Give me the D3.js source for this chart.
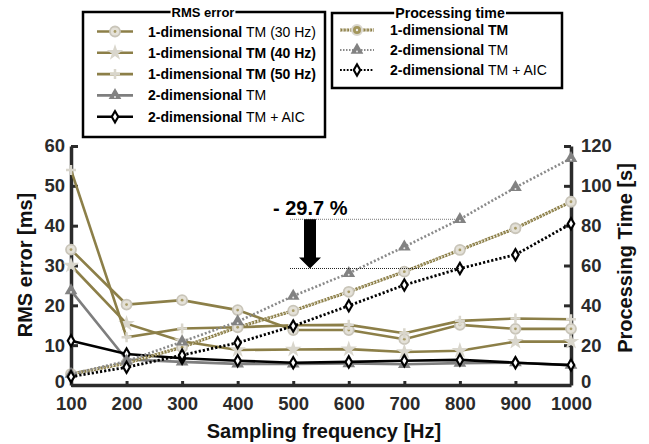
<!DOCTYPE html>
<html>
<head>
<meta charset="utf-8">
<script src="https://cdn.jsdelivr.net/npm/d3@7"></script>
<style>
  html, body { margin: 0; padding: 0; background: #fff; }
  svg { display: block; font-family: "Liberation Sans", Arial, Helvetica, sans-serif; }
</style>
</head>
<body>
<div id="chart"></div>
<script>
// Sampling frequencies [Hz]
const freqs = [100, 200, 300, 400, 500, 600, 700, 800, 900, 1000];
const leftTicks = [0, 10, 20, 30, 40, 50, 60];
const rightTicks = [0, 20, 40, 60, 80, 100, 120];

// RMS error [ms]
const rms1d30 = [34.0, 20.2, 21.3, 18.8, 13.8, 13.8, 11.5, 15.1, 14.1, 14.1];
const rms1d40 = [30.0, 15.4, 11.0, 8.8, 8.9, 9.0, 8.3, 8.6, 10.9, 10.9];
const rms1d50 = [54.0, 12.0, 14.2, 14.5, 15.0, 15.1, 13.0, 16.1, 16.7, 16.5];
const rms2d = [23.7, 6.4, 5.8, 5.3, 5.3, 5.4, 5.2, 5.5, 5.6, 5.0];
const rms2dAic = [11.1, 7.8, 6.7, 6.1, 5.6, 5.8, 6.1, 6.3, 5.6, 5.0];

// Processing time [s]
const proc1d = [5.5, 11.0, 19.0, 29.0, 37.3, 46.8, 56.9, 67.8, 78.7, 92.0];
const proc2d = [5.5, 12.0, 21.7, 31.8, 44.7, 56.1, 69.4, 83.2, 99.2, 113.8];
const proc2dAic = [4.2, 8.9, 15.0, 21.2, 29.6, 39.8, 50.2, 58.5, 65.4, 81.0];

const reductionLabel = "- 29.7 %";
const reductionAt = 800;

const W = 649, H = 444;
const olive = "#8c7f48";
const light = "#d9d6cc";
const ink = "#2b2b2b";

const svg = d3.select("#chart").append("svg")
  .attr("width", W).attr("height", H)
  .attr("viewBox", `0 0 ${W} ${H}`);

const x = d3.scaleLinear().domain([100, 1000]).range([71, 571]);
const yL = d3.scaleLinear().domain([0, 60]).range([385, 146]);
const yR = d3.scaleLinear().domain([0, 120]).range([385, 146]);

// ---- axes ----
function styleAxis(g) {
  g.select(".domain").attr("stroke", ink).attr("stroke-width", 3.5);
  g.selectAll(".tick line").attr("stroke", ink).attr("stroke-width", 3);
  g.selectAll(".tick text")
    .attr("fill", ink)
    .attr("font-size", 18.5)
    .attr("font-weight", "bold");
}

svg.append("g")
  .attr("transform", "translate(0,385)")
  .call(d3.axisBottom(x).tickValues(freqs).tickFormat(d3.format("d"))
    .tickSize(-4).tickSizeOuter(0).tickPadding(12))
  .call(styleAxis);

svg.append("g")
  .attr("transform", "translate(71,0)")
  .call(d3.axisLeft(yL).tickValues(leftTicks).tickSize(-7).tickSizeOuter(0).tickPadding(6))
  .call(styleAxis)
  .selectAll(".tick text").filter(d => d === 0).attr("y", -3);

svg.append("g")
  .attr("transform", "translate(571,0)")
  .call(d3.axisRight(yR).tickValues(rightTicks).tickSize(-7).tickSizeOuter(0).tickPadding(10))
  .call(styleAxis)
  .selectAll(".tick text").filter(d => d === 0).attr("y", -3);

svg.append("text")
  .attr("transform", "translate(32,265) rotate(-90)")
  .attr("text-anchor", "middle")
  .attr("font-size", 20).attr("font-weight", "bold").attr("fill", "#111")
  .text("RMS error [ms]");

svg.append("text")
  .attr("transform", "translate(632,258) rotate(-90)")
  .attr("text-anchor", "middle")
  .attr("font-size", 20).attr("font-weight", "bold").attr("fill", "#111")
  .text("Processing Time [s]");

svg.append("text")
  .attr("x", 324).attr("y", 438)
  .attr("text-anchor", "middle")
  .attr("font-size", 20).attr("font-weight", "bold").attr("fill", "#111")
  .text("Sampling frequency [Hz]");

// ---- markers ----
const markers = {
  circle(g) {
    g.append("circle").attr("r", 5).attr("fill", "#e4e1d8").attr("stroke", "#c9c5b9").attr("stroke-width", 1.8);
    g.append("circle").attr("r", 1.4).attr("fill", "#a89b66");
  },
  star(g) {
    g.append("path").attr("d", d3.symbol(d3.symbolStar, 85)()).attr("fill", light);
  },
  plus(g) {
    g.append("path").attr("d", "M-5,0H5M0,-5V5").attr("stroke", light).attr("stroke-width", 2.5);
  },
  triangle(g) {
    g.append("path").attr("d", d3.symbol(d3.symbolTriangle, 70)()).attr("fill", "#828282");
    g.append("circle").attr("cy", 1.5).attr("r", 1).attr("fill", "#e8e8e8");
  },
  diamond(g) {
    g.append("path").attr("d", d3.symbol(d3.symbolDiamond, 70)()).attr("fill", "#000");
    g.append("path").attr("d", d3.symbol(d3.symbolDiamond, 14)()).attr("fill", "#fff");
  },
  bigCircle(g) {
    g.append("circle").attr("r", 5).attr("fill", "#a3965c").attr("stroke", light).attr("stroke-width", 2);
    g.append("circle").attr("r", 1.2).attr("fill", "#eee");
  }
};

function drawSeries(values, yScale, style, marker) {
  const line = d3.line().x((d, i) => x(freqs[i])).y(d => yScale(d));
  const g = svg.append("g");
  if (style.beads) {
    g.append("path").attr("d", line(values)).attr("fill", "none")
      .attr("stroke", olive).attr("stroke-width", 3.2).attr("stroke-dasharray", "2.5,0.8");
    g.append("path").attr("d", line(values)).attr("fill", "none")
      .attr("stroke", "#e9e5d6").attr("stroke-width", 1.1).attr("stroke-dasharray", "1,2.3");
  } else {
    g.append("path").attr("d", line(values)).attr("fill", "none")
      .attr("stroke", style.color).attr("stroke-width", style.width)
      .attr("stroke-dasharray", style.dash || null);
  }
  g.selectAll(".m").data(values).enter().append("g")
    .attr("transform", (d, i) => `translate(${x(freqs[i])},${yScale(d)})`)
    .each(function () { markers[marker](d3.select(this)); });
}

// RMS error series
drawSeries(rms1d30, yL, { color: olive, width: 2.6 }, "circle");
drawSeries(rms1d40, yL, { color: olive, width: 2.6 }, "star");
drawSeries(rms1d50, yL, { color: olive, width: 2.6 }, "plus");
drawSeries(rms2d, yL, { color: "#7e7e7e", width: 2.6 }, "triangle");
drawSeries(rms2dAic, yL, { color: "#000", width: 2.6 }, "diamond");

// Processing time series
drawSeries(proc1d, yR, { beads: true }, "circle");
drawSeries(proc2d, yR, { color: "#8a8a8a", width: 2.6, dash: "2,2" }, "triangle");
drawSeries(proc2dAic, yR, { color: "#000", width: 2.8, dash: "2.2,2" }, "diamond");

// ---- reduction annotation ----
const idx = freqs.indexOf(reductionAt);
const yTop = yR(proc2d[idx]);
const yBot = yR(proc2dAic[idx]);
svg.append("line").attr("x1", 290).attr("x2", x(reductionAt)).attr("y1", yTop).attr("y2", yTop)
  .attr("stroke", "#777").attr("stroke-width", 1).attr("stroke-dasharray", "1,1");
svg.append("line").attr("x1", 290).attr("x2", x(reductionAt)).attr("y1", yBot).attr("y2", yBot)
  .attr("stroke", "#222").attr("stroke-width", 1).attr("stroke-dasharray", "1,1");
const ax = 310;
svg.append("path")
  .attr("d", `M${ax - 6},${yTop}H${ax + 6}V${yBot - 11}H${ax + 11}L${ax},${yBot}L${ax - 11},${yBot - 11}H${ax - 6}Z`)
  .attr("fill", "#000");
svg.append("text")
  .attr("x", 273).attr("y", yTop - 4)
  .attr("font-size", 20).attr("font-weight", "bold").attr("fill", "#000")
  .text(reductionLabel);

// ---- legends ----
function legendBox(box, title, rows) {
  const g = svg.append("g");
  g.append("rect").attr("x", box.x).attr("y", box.y).attr("width", box.w).attr("height", box.h)
    .attr("fill", "#fff").attr("stroke", "#000").attr("stroke-width", 2.5);
  const t = g.append("text")
    .attr("x", box.x + box.w / 2 + box.titleShift).attr("y", box.y + 5)
    .attr("text-anchor", "middle")
    .attr("font-size", box.titleSize).attr("font-weight", "bold").attr("fill", "#000")
    .text(title);
  const bb = t.node().getBBox();
  g.insert("rect", "text").attr("x", bb.x - 1).attr("y", box.y - 3).attr("width", bb.width + 2).attr("height", 6)
    .attr("fill", "#fff");
  rows.forEach((r, i) => {
    const yy = box.y + box.first + i * box.step;
    const row = g.append("g");
    const s = r.style;
    if (s.beads) {
      row.append("line").attr("x1", box.lx).attr("x2", box.lx + box.lw).attr("y1", yy).attr("y2", yy)
        .attr("stroke", olive).attr("stroke-width", 3.2).attr("stroke-dasharray", "2.5,0.8");
      row.append("line").attr("x1", box.lx).attr("x2", box.lx + box.lw).attr("y1", yy).attr("y2", yy)
        .attr("stroke", "#e9e5d6").attr("stroke-width", 1.1).attr("stroke-dasharray", "1,2.3");
    } else {
      row.append("line").attr("x1", box.lx).attr("x2", box.lx + box.lw).attr("y1", yy).attr("y2", yy)
        .attr("stroke", s.color).attr("stroke-width", s.width).attr("stroke-dasharray", s.dash || null);
    }
    const m = row.append("g").attr("transform", `translate(${box.lx + box.lw / 2},${yy})`);
    markers[r.marker](m);
    const txt = row.append("text").attr("x", box.tx).attr("y", yy + 5)
      .attr("font-size", 14).attr("fill", "#000");
    txt.append("tspan").attr("font-weight", "bold").text(r.bold);
    if (r.rest) txt.append("tspan").attr("font-weight", r.restBold ? "bold" : "normal").text(r.rest);
  });
}

legendBox(
  { x: 83, y: 12, w: 242, h: 125, titleShift: -1, titleSize: 13, first: 19.5, step: 21.3, lx: 97, lw: 36, tx: 148 },
  "RMS error",
  [
    { style: { color: olive, width: 2.6 }, marker: "circle", bold: "1-dimensional ", rest: "TM (30 Hz)" },
    { style: { color: olive, width: 2.6 }, marker: "star", bold: "1-dimensional ", rest: "TM (40 Hz)", restBold: true },
    { style: { color: olive, width: 2.6 }, marker: "plus", bold: "1-dimensional ", rest: "TM (50 Hz)", restBold: true },
    { style: { color: "#7e7e7e", width: 2.6 }, marker: "triangle", bold: "2-dimensional ", rest: "TM" },
    { style: { color: "#000", width: 2.6 }, marker: "diamond", bold: "2-dimensional ", rest: "TM + AIC" }
  ]
);

legendBox(
  { x: 332, y: 13, w: 230, h: 75, titleShift: 3, titleSize: 14.2, first: 17, step: 20, lx: 340, lw: 34, tx: 390 },
  "Processing time",
  [
    { style: { beads: true }, marker: "bigCircle", bold: "1-dimensional TM" },
    { style: { color: "#8a8a8a", width: 2, dash: "1.5,1.5" }, marker: "triangle", bold: "2-dimensional ", rest: "TM" },
    { style: { color: "#000", width: 2.2, dash: "1.8,1.6" }, marker: "diamond", bold: "2-dimensional ", rest: "TM + AIC" }
  ]
);
</script>
</body>
</html>
